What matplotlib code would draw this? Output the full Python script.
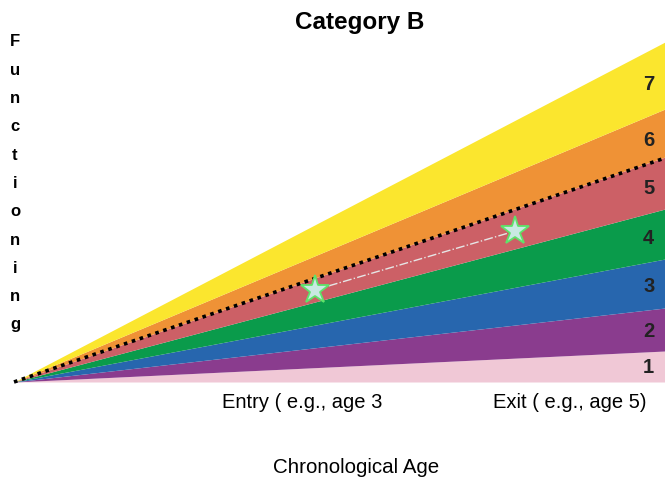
import matplotlib
matplotlib.use("Agg")
import matplotlib.pyplot as plt
import numpy as np

plt.rcParams['font.family'] = ['Liberation Sans', 'DejaVu Sans']

# ---- data ----
levels = ['1', '2', '3', '4', '5', '6', '7']
# band boundaries (functioning) at the right edge (age = 1)
boundaries_right = [0, 31, 74, 123, 173, 225, 273, 340]
band_colors = ['#F0C8D6', '#8A3C8E', '#2766AE', '#0A9B4B', '#CC6066', '#EF9236', '#FBE62E']
dotted_right = 224
entry_age, exit_age = 0.462, 0.770
entry_func, exit_func = 92, 151
title = 'Category B'
ylabel = 'Functioning'
xlabel = 'Chronological Age'
entry_label = 'Entry ( e.g., age 3'
exit_label = 'Exit ( e.g., age 5)'

W, H = 665, 485
fig = plt.figure(figsize=(W / 100, H / 100), dpi=100)
ax = fig.add_axes([14 / W, (H - 383) / H, 1 - 14 / W, 383 / H])
ax.set_xlim(0, 1)
ax.set_ylim(0, 383)
ax.axis('off')

x = np.array([0.0, 1.0])
for i in range(len(levels)):
    lo, hi = boundaries_right[i], boundaries_right[i + 1]
    ax.fill_between(x, lo * x, hi * x, color=band_colors[i], linewidth=0, zorder=1)

ax.plot(x, dotted_right * x, color='black', lw=2.6, linestyle=(0, (1, 1.3)),
        dash_capstyle='butt', zorder=3, clip_on=False)

ax.plot([entry_age, exit_age], [entry_func, exit_func], color='#e6e6e6', lw=1,
        linestyle='-.', zorder=4)
ax.plot([entry_age, exit_age], [entry_func, exit_func], linestyle='none', marker='*',
        markersize=21, markerfacecolor='#c9e9e3', markeredgecolor='#5ee36a',
        markeredgewidth=1.3, zorder=5)

label_x = 0.975
for i, lab in enumerate(levels):
    lo, hi = boundaries_right[i] * label_x, boundaries_right[i + 1] * label_x
    ax.text(label_x, (lo + hi) / 2, lab, ha='center', va='center', fontsize=14.5,
            fontweight='bold', color='#222222', zorder=6)

fig.text(360 / W, 1 - 22 / H, title, ha='center', va='center', fontsize=17.5,
         fontweight='bold')

n = len(ylabel)
for k, ch in enumerate(ylabel):
    yy = 42 + k * (325 - 42) / (n - 1)
    fig.text(15 / W, 1 - yy / H, ch, ha='center', va='center', fontsize=12,
             fontweight='bold')

fig.text(302 / W, 1 - 402 / H, entry_label, ha='center', va='center', fontsize=14.5)
fig.text(570 / W, 1 - 402 / H, exit_label, ha='center', va='center', fontsize=14.5)
fig.text(356 / W, 1 - 468 / H, xlabel, ha='center', va='center', fontsize=14.8)

fig.savefig('out.png', dpi=100)
